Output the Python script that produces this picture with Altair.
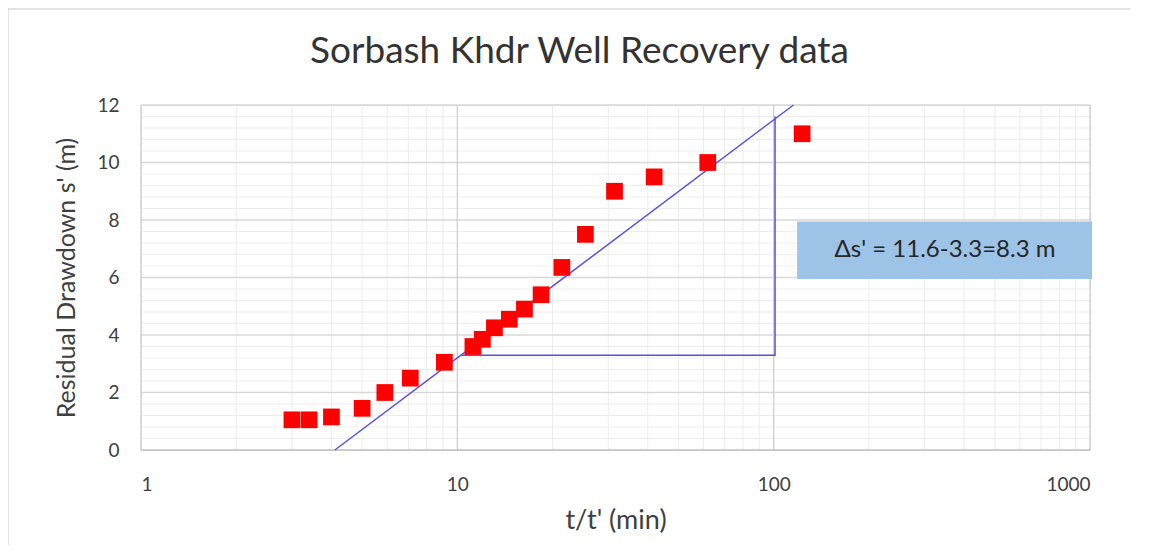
import altair as alt
import pandas as pd

# data
t_ratio = [3.0, 3.4, 4.0, 5.0, 5.9, 7.1, 9.1, 11.2, 12.0, 13.1, 14.6, 16.3, 18.4, 21.4, 25.4, 31.4, 41.9, 61.9, 123.0]
drawdown = [1.05, 1.05, 1.15, 1.45, 2.0, 2.5, 3.05, 3.6, 3.85, 4.25, 4.55, 4.9, 5.4, 6.35, 7.5, 9.0, 9.5, 10.0, 11.0]

fit_x = [4.1, 115.5]
fit_y = [0.0, 12.0]

tri_x = [10.3, 101.0, 101.0]
tri_y = [3.3, 3.3, 11.6]

box_x = [118.6, 1015.0]
box_y = [5.95, 7.95]
box_text = "Δs' = 11.6-3.3=8.3 m"
title_text = "Sorbash Khdr Well Recovery data"

x_major = [1, 10, 100, 1000]
x_minor = [m * d for d in (1, 10, 100) for m in range(2, 10)]
y_major = [0, 2, 4, 6, 8, 10, 12]
y_minor = [round(i * 0.4, 2) for i in range(31) if round(i * 0.4, 2) not in y_major]

FONT = "Lato"
xs = alt.Scale(type="log", domain=[1, 1000], nice=False)
ys = alt.Scale(domain=[0, 12], nice=False)

W, H = 949, 345

frame = alt.Chart(pd.DataFrame({"a": [0]})).mark_rect(
    fill="transparent", stroke="#d9d9d9", strokeWidth=1.5
).encode(x=alt.value(-133), x2=alt.value(1200), y=alt.value(-96), y2=alt.value(600))

title = alt.Chart(pd.DataFrame({"t": [title_text]})).mark_text(
    font=FONT, fontSize=37, color="#333333", baseline="middle", align="center"
).encode(x=alt.value(W / 2 - 36), y=alt.value(-53), text="t:N")

ymin_grid = alt.Chart(pd.DataFrame({"y": y_minor})).mark_rule(color="#ededed", strokeWidth=1).encode(
    y=alt.Y("y:Q", scale=ys))
xmin_grid = alt.Chart(pd.DataFrame({"x": x_minor})).mark_rule(color="#ededed", strokeWidth=1).encode(
    x=alt.X("x:Q", scale=xs))
ymaj_grid = alt.Chart(pd.DataFrame({"y": y_major[1:]})).mark_rule(color="#d9d9d9", strokeWidth=1.3).encode(
    y=alt.Y("y:Q", scale=ys))
xmaj_grid = alt.Chart(pd.DataFrame({"x": x_major})).mark_rule(color="#d0d0d0", strokeWidth=1.3).encode(
    x=alt.X("x:Q", scale=xs))
base_line = alt.Chart(pd.DataFrame({"y": [0]})).mark_rule(color="#bfbfbf", strokeWidth=1.5).encode(
    y=alt.Y("y:Q", scale=ys))

box = alt.Chart(pd.DataFrame({"x": [box_x[0]], "x2": [box_x[1]], "y": [box_y[0]], "y2": [box_y[1]]})).mark_rect(
    color="#9dc3e6").encode(
    x=alt.X("x:Q", scale=xs), x2="x2:Q", y=alt.Y("y:Q", scale=ys), y2="y2:Q")
box_lbl = alt.Chart(pd.DataFrame({"x": [348.0], "y": [6.97], "t": [box_text]})).mark_text(
    font=FONT, fontSize=24, color="#262626").encode(
    x=alt.X("x:Q", scale=xs), y=alt.Y("y:Q", scale=ys), text="t:N")

fit = alt.Chart(pd.DataFrame({"x": fit_x, "y": fit_y})).mark_line(color="#5a50e0", strokeWidth=1.5).encode(
    x=alt.X("x:Q", scale=xs), y=alt.Y("y:Q", scale=ys))
tri = alt.Chart(pd.DataFrame({"x": tri_x, "y": tri_y, "o": [0, 1, 2]})).mark_line(
    color="#5a50e0", strokeWidth=1.5).encode(
    x=alt.X("x:Q", scale=xs), y=alt.Y("y:Q", scale=ys), order="o:Q")

pts = alt.Chart(pd.DataFrame({"x": t_ratio, "y": drawdown})).mark_square(
    color="#ff0000", opacity=1, size=280, cornerRadius=2).encode(
    x=alt.X("x:Q", scale=xs, axis=alt.Axis(
        title="t/t' (min)", values=x_major, format="d", grid=False, ticks=False, domain=False,
        labelFont=FONT, labelFontSize=19, labelColor="#404040", labelPadding=25,
        titleFont=FONT, titleFontSize=27, titleColor="#404040", titleFontWeight="normal", titlePadding=13)),
    y=alt.Y("y:Q", scale=ys, axis=alt.Axis(
        title="Residual Drawdown s' (m)", values=y_major, grid=False, ticks=False, domain=False,
        labelFont=FONT, labelFontSize=19, labelColor="#404040", labelPadding=22,
        titleFont=FONT, titleFontSize=25, titleColor="#404040", titleFontWeight="normal", titlePadding=17)),
)

chart = alt.layer(
    frame, title, ymin_grid, xmin_grid, ymaj_grid, xmaj_grid, base_line, box, box_lbl, fit, tri, pts
).properties(
    width=W, height=H,
    padding={"left": 133, "top": 97, "right": 40, "bottom": 95},
    autosize=alt.AutoSizeParams(type="none"),
).configure_view(stroke=None).configure(background="white")

chart.save("out.html", embed_options={"renderer": "svg", "actions": False})
